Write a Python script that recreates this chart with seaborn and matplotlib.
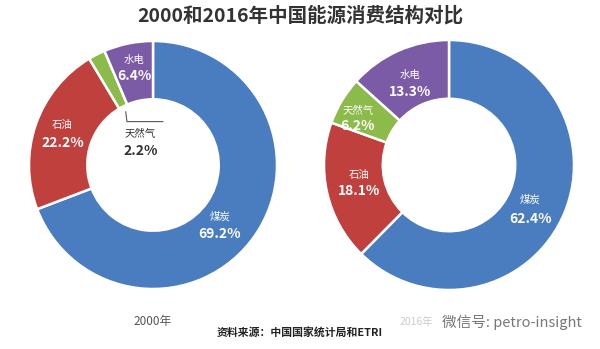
import matplotlib
matplotlib.use("Agg")
import matplotlib.pyplot as plt
import seaborn as sns

sns.set_theme(style="white")
plt.rcParams['font.family'] = ['Noto Sans CJK SC', 'DejaVu Sans']

categories = ["煤炭", "石油", "天然气", "水电"]
values_2000 = [69.2, 22.2, 2.2, 6.4]
values_2016 = [62.4, 18.1, 6.2, 13.3]
years = ["2000年", "2016年"]
title = "2000和2016年中国能源消费结构对比"
source = "资料来源：中国国家统计局和ETRI"
watermark = "微信号: petro-insight"

colors = ["#4a7dbf", "#c0403d", "#8cba4b", "#7b5aa6"]

W, H = 600, 349
fig = plt.figure(figsize=(6, 3.49), dpi=100)
fig.patch.set_facecolor("white")

def make_ax(cx, cy, r):
    return fig.add_axes([(cx - r) / W, (H - cy - r) / H, 2 * r / W, 2 * r / H])

# label positions (data coords) per chart: name pos, pct pos
pos_2000 = {
    "煤炭": ((0.54, -0.42), (0.54, -0.56)),
    "石油": ((-0.73, 0.32), (-0.73, 0.18)),
    "水电": ((-0.15, 0.85), (-0.15, 0.72)),
    "天然气": ((-0.10, 0.25), (-0.10, 0.11)),
}
pos_2016 = {
    "煤炭": ((0.65, -0.28), (0.65, -0.43)),
    "石油": ((-0.72, -0.08), (-0.72, -0.21)),
    "天然气": ((-0.73, 0.43), (-0.73, 0.31)),
    "水电": ((-0.31, 0.72), (-0.31, 0.58)),
}

def donut(ax, vals, pos, outside=()):
    ax.pie(vals, colors=colors, startangle=90, counterclock=False,
           wedgeprops=dict(width=0.47, edgecolor="white", linewidth=1.8))
    ax.set_xlim(-1.0, 1.0)
    ax.set_ylim(-1.0, 1.0)
    ax.set_aspect("equal")
    ax.axis("off")
    for c, v in zip(categories, vals):
        (nx, ny), (px, py) = pos[c]
        col = "#333333" if c in outside else "white"
        ax.text(nx, ny, c, ha="center", va="center", fontsize=7.5, color=col)
        ax.text(px, py, f"{v}%", ha="center", va="center", fontsize=10,
                fontweight="bold", color=col)

ax1 = make_ax(153, 165, 124)
donut(ax1, values_2000, pos_2000, outside=("天然气",))
ax1.plot([-0.22, -0.21, 0.08], [0.43, 0.35, 0.35], color="#555555", lw=0.8)

ax2 = make_ax(449, 165, 125)
donut(ax2, values_2016, pos_2016)

fig.text(300 / W, 1 - 16 / H, title, ha="center", va="center",
         fontsize=14, fontweight="bold", color="#333333")
fig.text(153 / W, 1 - 322 / H, years[0], ha="center", va="center",
         fontsize=8.5, color="#555555")
fig.text(416 / W, 1 - 322 / H, years[1], ha="center", va="center",
         fontsize=7.5, color="#cccccc")
fig.text(300 / W, 1 - 332 / H, source, ha="center", va="center",
         fontsize=7.8, fontweight="bold", color="#222222")
fig.text(512 / W, 1 - 322 / H, watermark, ha="center", va="center",
         fontsize=10.5, color="#777777")

fig.savefig("out.png", dpi=100, facecolor="white")
